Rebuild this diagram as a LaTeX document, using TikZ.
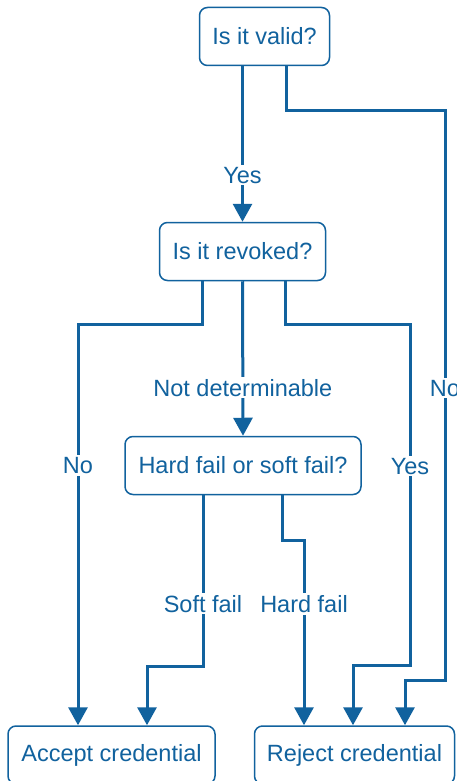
\documentclass[tikz,border=0pt]{standalone}
\usepackage{fontspec}
\setmainfont{Liberation Sans}
\usetikzlibrary{arrows.meta,calc}
\definecolor{flow}{RGB}{17,98,158}
\begin{document}
\begin{tikzpicture}[x=1pt,y=-1pt,
  box/.style={draw=flow, line width=1.5pt, rounded corners=8pt, fill=white,
    text=flow, font=\fontsize{23.5}{28}\selectfont, inner sep=0pt,
    minimum height=58pt},
  link/.style={draw=flow, line width=3pt,
    -{Triangle[length=18pt,width=19pt]}},
  lbl/.style={fill=white, text=flow, font=\fontsize{23.5}{28}\selectfont,
    inner sep=2pt},
]
\useasboundingbox (0,0) rectangle (457,781);

% decision and outcome boxes
\node[box, minimum width=130pt] (valid)   at (264.5,36.5) {Is it valid?};
\node[box, minimum width=166pt] (revoked) at (242.5,251.5) {Is it revoked?};
\node[box, minimum width=236pt] (mode)    at (243,465.5) {Hard fail or soft fail?};
\node[box, minimum width=207pt] (accept)  at (111.5,755) {Accept credential};
\node[box, minimum width=200pt] (reject)  at (354.5,755) {Reject credential};

% bend points
\coordinate (vA) at (445,111);
\coordinate (vB) at (445,680);
\coordinate (rL) at (78,324);
\coordinate (rR) at (410,324);
\coordinate (rR2) at (410,665);
\coordinate (sf) at (147,665);
\coordinate (hf) at (304,540);

% valid -> revoked (Yes)
\draw[link] (valid.south -| revoked.north) -- node[lbl, pos=0.70] {Yes} (revoked.north);
% valid -> reject (No)
\draw[link] ($(valid.south)+(21.5,0)$) |- (vA) -- node[lbl, pos=0.487] {No} (vB)
  -| ($(reject.north)+(50.5,0)$);

% revoked -> accept (No)
\draw[link] ($(revoked.south)+(-40.5,0)$) |- (rL) -- node[lbl, pos=0.353] {No} (accept.north -| rL);
% revoked -> mode (Not determinable)
\draw[link] (revoked.south) -- node[lbl, pos=0.69] {Not determinable} (mode.north);
% revoked -> reject (Yes)
\draw[link] ($(revoked.south)+(42.5,0)$) |- (rR) -- node[lbl, pos=0.417] {Yes} (rR2)
  -| ($(reject.north)+(-1.5,0)$);

% mode -> accept (Soft fail)
\draw[link] ($(mode.south)+(-40,0)$) -- node[lbl, pos=0.635] {Soft fail} ($(mode.south)+(-40,171)$)
  -| (accept.north -| sf);
% mode -> reject (Hard fail)
\draw[link] ($(mode.south)+(39,0)$) |- (hf) -- node[lbl, pos=0.345] {Hard fail} (reject.north -| hf);
\end{tikzpicture}
\end{document}
